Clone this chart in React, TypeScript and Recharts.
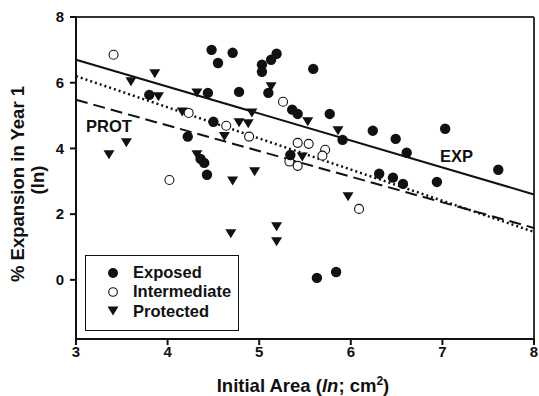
import React from 'react';
import { ScatterChart, Scatter, XAxis, YAxis, ReferenceLine } from 'recharts';

// [initial area (ln), % expansion (ln)]
const exposed: [number, number][] = [
  [4.48, 7.0], [4.55, 6.6], [4.71, 6.91], [5.03, 6.55], [5.03, 6.33], [5.13, 6.7],
  [5.19, 6.88], [5.59, 6.42], [3.8, 5.63], [4.44, 5.69], [4.78, 5.72], [5.1, 5.69],
  [5.36, 5.18], [5.42, 5.05], [5.77, 5.05], [5.91, 4.26], [6.24, 4.54], [6.49, 4.29],
  [6.61, 3.87], [7.03, 4.6], [7.61, 3.35], [6.31, 3.23], [6.46, 3.11], [6.57, 2.92],
  [6.94, 2.98], [5.34, 3.8], [4.5, 4.81], [4.22, 4.36], [4.36, 3.68], [4.4, 3.56],
  [4.43, 3.2], [5.63, 0.06], [5.84, 0.24],
];

const intermediate: [number, number][] = [
  [3.41, 6.85], [4.23, 5.08], [4.64, 4.69], [4.89, 4.36], [4.02, 3.04], [5.26, 5.42],
  [5.42, 4.17], [5.54, 4.14], [5.72, 3.96], [5.69, 3.78], [5.33, 3.6], [5.42, 3.47],
  [6.09, 2.16],
];

const protectedSites: [number, number][] = [
  [3.36, 3.81], [3.55, 4.17], [3.6, 6.03], [3.86, 6.27], [3.9, 5.57], [4.16, 5.11],
  [4.32, 5.69], [4.62, 4.36], [4.78, 4.78], [4.88, 4.75], [4.92, 5.08], [4.32, 3.81],
  [4.71, 3.01], [4.95, 3.29], [5.13, 5.88], [5.53, 4.81], [5.86, 4.54], [5.47, 3.74],
  [4.69, 1.4], [5.19, 1.62], [5.19, 1.16], [5.97, 2.53],
];

// regression lines: value at x=3 and x=8
const expFit = [6.7, 2.6];
const intFit = [6.2, 1.46];
const protFit = [5.48, 1.58];

const xTicks = [3, 4, 5, 6, 7, 8];
const yTicks = [0, 2, 4, 6, 8];

const toPoints = (arr: [number, number][]) => arr.map(([x, y]) => ({ x, y }));

const FONT = '"Liberation Sans", Arial, sans-serif';

const Filled = (p: any) => <circle cx={p.cx} cy={p.cy} r={5.2} fill="#111" />;
const Open = (p: any) => <circle cx={p.cx} cy={p.cy} r={4.5} fill="#fff" stroke="#111" strokeWidth={1.1} />;
const Tri = (p: any) => (
  <polygon
    points={`${p.cx - 5.5},${p.cy - 4.5} ${p.cx + 5.5},${p.cy - 4.5} ${p.cx},${p.cy + 4.5}`}
    fill="#111"
  />
);

export default function App() {
  const tickStyle = { fill: '#111', fontSize: 15, fontWeight: 'bold', fontFamily: FONT };
  return (
    <div style={{ position: 'absolute', left: 0, top: 0, width: 539, height: 396, background: '#fff' }}>
      <ScatterChart width={539} height={396} margin={{ top: 17, right: 5, bottom: 0, left: 0 }}>
        <XAxis
          type="number"
          dataKey="x"
          domain={[3, 8]}
          ticks={xTicks}
          height={57}
          tickSize={6}
          tickMargin={1}
          tick={tickStyle}
          axisLine={{ stroke: '#111', strokeWidth: 2 }}
          tickLine={{ stroke: '#111', strokeWidth: 2 }}
          allowDataOverflow
        />
        <YAxis
          type="number"
          dataKey="y"
          domain={[-1.8, 8]}
          ticks={yTicks}
          width={76}
          tickSize={6}
          tickMargin={6}
          tick={tickStyle}
          axisLine={{ stroke: '#111', strokeWidth: 2 }}
          tickLine={{ stroke: '#111', strokeWidth: 2 }}
          allowDataOverflow
        />
        <ReferenceLine y={8} stroke="#333" strokeWidth={2} />
        <ReferenceLine x={8} stroke="#333" strokeWidth={2} />
        <ReferenceLine
          segment={[{ x: 3, y: expFit[0] }, { x: 8, y: expFit[1] }]}
          stroke="#111"
          strokeWidth={2}
        />
        <ReferenceLine
          segment={[{ x: 3, y: intFit[0] }, { x: 8, y: intFit[1] }]}
          stroke="#111"
          strokeWidth={2.5}
          strokeDasharray="2 3"
        />
        <ReferenceLine
          segment={[{ x: 3, y: protFit[0] }, { x: 8, y: protFit[1] }]}
          stroke="#111"
          strokeWidth={2}
          strokeDasharray="12 6"
        />
        <Scatter data={toPoints(protectedSites)} shape={Tri} isAnimationActive={false} />
        <Scatter data={toPoints(intermediate)} shape={Open} isAnimationActive={false} />
        <Scatter data={toPoints(exposed)} shape={Filled} isAnimationActive={false} />
      </ScatterChart>
      <svg
        width={539}
        height={396}
        style={{ position: 'absolute', left: 0, top: 0, pointerEvents: 'none' }}
        fontFamily={FONT}
        fontWeight="bold"
        fill="#111"
      >
        <text x={86} y={132} fontSize={16.5}>PROT</text>
        <text x={440} y={162} fontSize={16.5}>EXP</text>
        <text transform="translate(24,184) rotate(-90)" textAnchor="middle" fontSize={18.5}>
          % Expansion in Year 1
        </text>
        <text transform="translate(44,180) rotate(-90)" textAnchor="middle" fontSize={18.5}>
          (ln)
        </text>
        <text x={303} y={392} textAnchor="middle" fontSize={18.5}>
          Initial Area (<tspan fontStyle="italic">ln</tspan>; cm
          <tspan dy={-7} fontSize={12}>2</tspan>
          <tspan dy={7}>)</tspan>
        </text>
        <rect x={85.5} y={255.5} width={153} height={75} fill="#fff" stroke="#111" strokeWidth={1} />
        <circle cx={113} cy={273} r={5} fill="#111" />
        <circle cx={113} cy={292} r={4.3} fill="#fff" stroke="#111" strokeWidth={1.1} />
        <polygon points="107.5,306.5 118.5,306.5 113,315.5" fill="#111" />
        <text x={133} y={278} fontSize={16.5}>Exposed</text>
        <text x={133} y={297} fontSize={16.5}>Intermediate</text>
        <text x={133} y={317} fontSize={16.5}>Protected</text>
      </svg>
    </div>
  );
}
